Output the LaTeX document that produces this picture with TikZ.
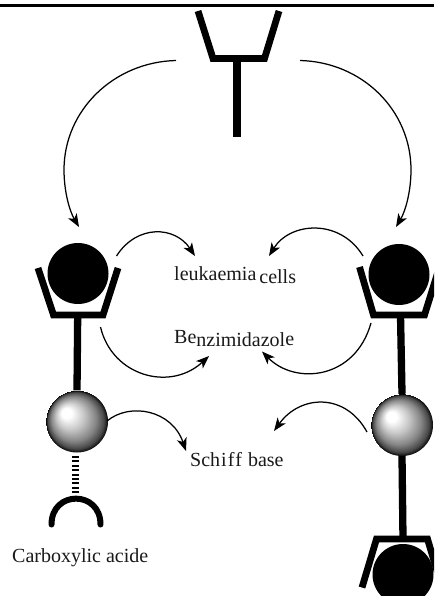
\documentclass[tikz,border=0pt]{standalone}
\usepackage{fontspec}
\setmainfont{Liberation Serif}
\usetikzlibrary{arrows.meta}
\pgfdeclareradialshading{ballgrad}{\pgfpoint{-20bp}{16bp}}{
  color(0bp)=(white); color(8bp)=(white); color(22bp)=(black!22);
  color(36bp)=(black!48); color(45bp)=(black!72); color(50bp)=(black)}
\newcommand{\paintball}[1]{%
  \begin{scope}
    \clip (#1.center) circle[radius=31pt];
    \pgftransformshift{\pgfpointanchor{#1}{center}}%
    \pgftransformscale{0.6225}%
    \pgflowlevelsynccm
    \pgfuseshading{ballgrad}%
  \end{scope}}
\tikzset{
  bond/.style={line width=6.8pt,miter limit=10,line join=miter},
  stem/.style={line width=7.3pt},
  curve/.style={line width=1.25pt,-{Stealth[length=13pt,width=10pt,inset=3.5pt]}},
  ball/.style={circle,minimum size=62pt,inner sep=0pt},
  antigen/.style={circle,fill=black,minimum size=61pt,inner sep=0pt},
  lab/.style={font=\fontsize{20pt}{22pt}\selectfont,inner sep=0pt,anchor=base west,text=black!90}
}
\begin{document}
\begin{tikzpicture}[x=1pt,y=-1pt]
\useasboundingbox (0,0) rectangle (434,596);
\clip (0,0) rectangle (434,596);
\fill[white] (0,0) rectangle (434,596);
\coordinate (tl) at (0,5.5); \coordinate (tr) at (434,5.5);
\draw[line width=2.2pt] (tl) -- (tr);
% top antibody
\coordinate (ya) at (198,11); \coordinate (yb) at (213,58.5);
\coordinate (yc) at (264.5,58.5); \coordinate (yd) at (279,11);
\coordinate (ye) at (237,58.5); \coordinate (yf) at (237,137);
\draw[bond] (ya) -- (yb) -- (yc) -- (yd);
\draw[stem] (ye) -- (yf);
% left group
\node[antigen] (lc) at (78,273.5) {};
\node[ball] (ls) at (77,421.5) {};
\paintball{ls}
\coordinate (la) at (38,268); \coordinate (lb) at (53.5,315);
\coordinate (ld) at (103,315); \coordinate (le) at (118,268);
\coordinate (lf) at (77.7,315);
\draw[bond] (la) -- (lb) -- (ld) -- (le);
\draw[stem] (lf) -- (ls.north);
\coordinate (dsa) at (75.5,456); \coordinate (dsb) at (75.5,494);
\draw[line width=7.5pt,dash pattern=on 2pt off 2.4pt] (dsa) -- (dsb);
\coordinate (cua) at (51.5,524.5); \coordinate (cub) at (100.5,524.5);
\draw[line width=6pt,line cap=round] (cua) .. controls (51.5,490) and (100.5,490) .. (cub);
% right group
\node[antigen] (rc) at (399,274.5) {};
\node[ball] (rs) at (402,425) {};
\paintball{rs}
\coordinate (ra) at (359.5,267); \coordinate (rb) at (373.5,315);
\coordinate (rd) at (424.5,315); \coordinate (re) at (439.5,267);
\coordinate (rf) at (400.5,315);
\draw[bond] (ra) -- (rb) -- (rd) -- (re);
\draw[stem] (rf) -- (rs.north);
\node[antigen] (bc) at (403,574.5) {};
\coordinate (ba) at (362,587.5); \coordinate (bb) at (376.5,539);
\coordinate (bd) at (427.5,539); \coordinate (be) at (442,587.5);
\coordinate (bf) at (403,539);
\draw[bond] (ba) -- (bb) -- (bd) -- (be);
\draw[stem] (rs.south) -- (bf);
% long arrows
\coordinate (tla) at (176,60.5); \coordinate (tlb) at (79,227);
\coordinate (tra) at (300,60.5); \coordinate (trb) at (396,227);
\draw[curve] (tla) .. controls (114,62) and (64,110) .. (64,170) .. controls (64,190) and (69,210) .. (tlb);
\draw[curve] (tra) .. controls (362,62) and (411,110) .. (411,170) .. controls (411,190) and (406,210) .. (trb);
% labels
\node[lab] (t1) at (174,280) {leukaemia\hspace{3pt}\raisebox{-3pt}{cells}};
\node[lab] (t3) at (174,346) {\raisebox{3pt}{Be}nzimidazol\raisebox{1pt}{e}};
\node[lab] (t4) at (190,466) {Sch\kern1pt i\kern1pt f\kern1pt f\kern1pt\ base};
\node[lab] (t5) at (12,562) {Carboxylic acide};
% short arrows
\coordinate (a1) at (116.5,256); \coordinate (a2) at (195,256);
\coordinate (a3) at (363,256); \coordinate (a4) at (269,256);
\coordinate (a5) at (100.5,327); \coordinate (a6) at (209,356);
\coordinate (a7) at (371,323); \coordinate (a8) at (262,351.5);
\coordinate (a9) at (107,421); \coordinate (a10) at (186,451);
\coordinate (a11) at (367,432); \coordinate (a12) at (274,431);
\draw[curve] (a1) .. controls (137,224) and (175,226) .. (a2);
\draw[curve] (a3) .. controls (340,218) and (290,222) .. (a4);
\draw[curve] (a5) .. controls (112,376) and (170,392) .. (a6);
\draw[curve] (a7) .. controls (355,380) and (295,385) .. (a8);
\draw[curve] (a9) .. controls (130,402) and (172,410) .. (a10);
\draw[curve] (a11) .. controls (345,392) and (300,395) .. (a12);
\end{tikzpicture}
\end{document}
